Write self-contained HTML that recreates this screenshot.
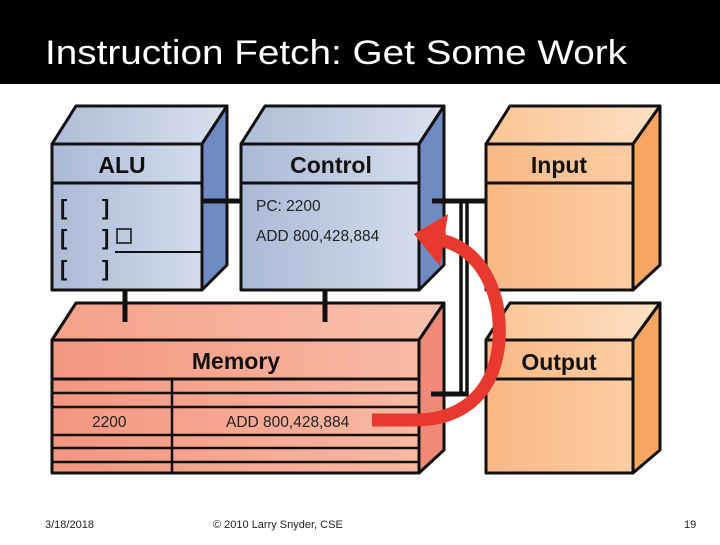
<!DOCTYPE html>
<html><head><meta charset="utf-8"><style>
body{margin:0;width:720px;height:540px;background:#fff;overflow:hidden;font-family:"Liberation Sans",sans-serif}
</style></head><body>
<svg width="720" height="540" xmlns="http://www.w3.org/2000/svg">
<defs>
<linearGradient id="bf" x1="0" x2="1"><stop offset="0" stop-color="#aab9d6"/><stop offset="1" stop-color="#d3dcec"/></linearGradient>
<linearGradient id="bt" x1="0" x2="1"><stop offset="0" stop-color="#aebcd6"/><stop offset="1" stop-color="#d9e1ee"/></linearGradient>
<linearGradient id="of" x1="0" x2="1"><stop offset="0" stop-color="#f9b886"/><stop offset="1" stop-color="#fdcda2"/></linearGradient>
<linearGradient id="ot" x1="0" x2="1"><stop offset="0" stop-color="#fbc495"/><stop offset="1" stop-color="#fde0c4"/></linearGradient>
<linearGradient id="mf" x1="0" x2="1"><stop offset="0" stop-color="#f39680"/><stop offset="1" stop-color="#f8b9a4"/></linearGradient>
<linearGradient id="mt" x1="0" x2="1"><stop offset="0" stop-color="#f5a08a"/><stop offset="1" stop-color="#f9c2ae"/></linearGradient>
</defs>
<rect x="0" y="0" width="720" height="84" fill="#000"/>
<text x="45" y="64" fill="#fff" font-size="34" textLength="582" lengthAdjust="spacingAndGlyphs">Instruction Fetch: Get Some Work</text>

<g stroke="#111" stroke-width="3" stroke-linejoin="round">
<polygon points="52,144 76,106 227,106 202,144" fill="url(#bt)"/>
<polygon points="202,144 227,106 227,265 202,290" fill="#6f8cc2"/>
<rect x="52" y="144" width="150" height="146" fill="url(#bf)"/>
<line x1="52" y1="183" x2="202" y2="183"/>
<polygon points="241,144 265,106 444,106 419,144" fill="url(#bt)"/>
<polygon points="419,144 444,106 444,265 419,290" fill="#6f8cc2"/>
<rect x="241" y="144" width="178" height="146" fill="url(#bf)"/>
<line x1="241" y1="183" x2="419" y2="183"/>
<polygon points="486,144 510,106 660,106 633,144" fill="url(#ot)"/>
<polygon points="633,144 660,106 660,265 633,290" fill="#f7a662"/>
<rect x="486" y="144" width="147" height="146" fill="url(#of)"/>
<line x1="486" y1="183" x2="633" y2="183"/>
<polygon points="52,340 76,303 444,303 419,340" fill="url(#mt)"/>
<polygon points="419,340 444,303 444,450 419,473" fill="#f08a78"/>
<rect x="52" y="340" width="367" height="133" fill="url(#mf)"/>
<line x1="52" y1="379" x2="419" y2="379"/>
<g stroke-width="2.5">
<line x1="52" y1="393" x2="419" y2="393"/>
<line x1="52" y1="407" x2="419" y2="407"/>
<line x1="52" y1="435" x2="419" y2="435"/>
<line x1="52" y1="448" x2="419" y2="448"/>
<line x1="52" y1="462" x2="419" y2="462"/>
<line x1="172" y1="379" x2="172" y2="473"/>
</g>
<polygon points="486,340 510,303 660,303 633,340" fill="url(#ot)"/>
<polygon points="633,340 660,303 660,450 633,473" fill="#f7a662"/>
<rect x="486" y="340" width="147" height="133" fill="url(#of)"/>
<line x1="486" y1="379" x2="633" y2="379"/>
</g>

<g stroke="#111" stroke-width="5">
<line x1="202" y1="201" x2="241" y2="201"/>
<line x1="432" y1="201" x2="486" y2="201"/>
<line x1="125" y1="290" x2="125" y2="322"/>
<line x1="325" y1="290" x2="325" y2="322"/>
<line x1="431" y1="394" x2="468" y2="394"/>
</g>
<g stroke="#111" stroke-width="3.5">
<line x1="461" y1="201" x2="461" y2="396"/>
<line x1="467" y1="201" x2="467" y2="396"/>
</g>

<g fill="#111" font-weight="bold" font-size="23" text-anchor="middle">
<text x="122" y="173">ALU</text>
<text x="331" y="173">Control</text>
<text x="559" y="173">Input</text>
<text x="236" y="369">Memory</text>
<text x="559" y="370">Output</text>
</g>
<g fill="#222" font-size="15.5">
<text x="256" y="211">PC: 2200</text>
<text x="256" y="241">ADD 800,428,884</text>
<text x="92" y="427">2200</text>
<text x="226" y="427">ADD 800,428,884</text>
</g>
<g fill="#111" font-size="22" font-weight="bold">
<text x="60" y="215">[</text><text x="102" y="215">]</text>
<text x="60" y="245">[</text><text x="102" y="245">]</text>
<text x="60" y="276">[</text><text x="102" y="276">]</text>
</g>
<rect x="117" y="229" width="14" height="14" fill="none" stroke="#111" stroke-width="1.5"/>
<line x1="115" y1="252" x2="202" y2="252" stroke="#111" stroke-width="2"/>

<path d="M372,420 L415,420 C480,420 508,370 497,305 C488,265 465,245 440,240" fill="none" stroke="#e8392e" stroke-width="13"/>
<polygon points="414,234 448,214 440,266" fill="#e8392e"/>

<g font-size="11" fill="#222">
<text x="45" y="528">3/18/2018</text>
<text x="213" y="528">© 2010 Larry Snyder, CSE</text>
<text x="684" y="528">19</text>
</g>
</svg>
</body></html>
